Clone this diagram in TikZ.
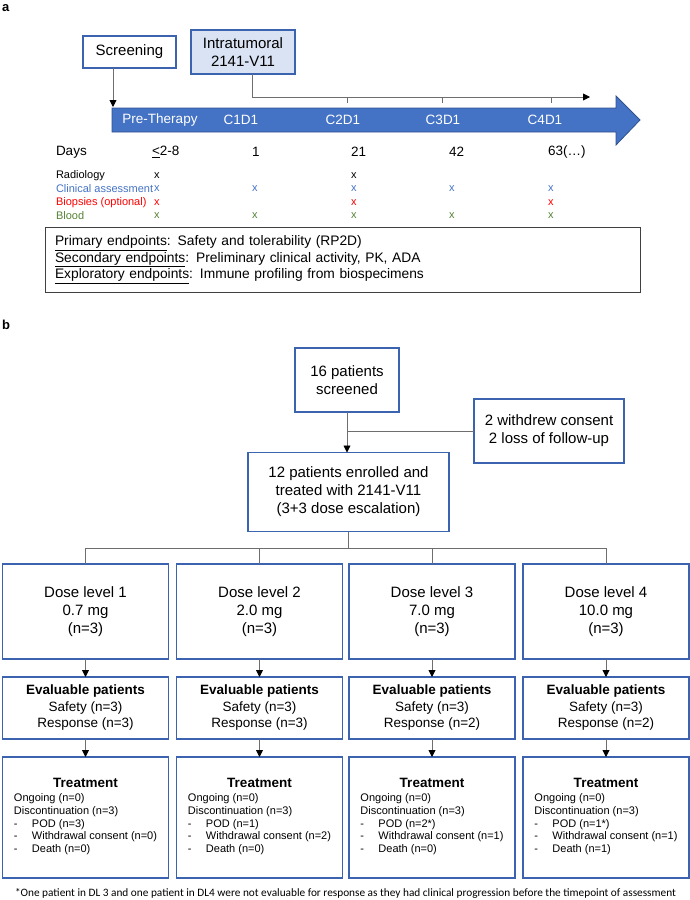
\documentclass[tikz,border=0pt]{standalone}
\usepackage{fontspec}
\setmainfont{Liberation Sans}
\newfontfamily\fnfont{Carlito}
\usetikzlibrary{arrows.meta,calc}
\definecolor{bblue}{HTML}{3B63B0}
\definecolor{bandfill}{HTML}{4472C4}
\definecolor{bandedge}{HTML}{2F528F}
\definecolor{lightfill}{HTML}{DAE3F3}
\definecolor{cblue}{HTML}{4472C4}
\definecolor{cred}{HTML}{FF0000}
\definecolor{cgreen}{HTML}{548235}
\definecolor{lgray}{HTML}{6E6E6E}
\definecolor{egray}{HTML}{404040}
\newcommand{\treatlist}[3]{\begin{tabular}{@{}l@{}}\multicolumn{1}{@{}c@{}}{\fontsize{13.5}{15}\selectfont\bfseries Treatment}\\[1pt]
Ongoing (n=0)\\ Discontinuation (n=3)\\
\makebox[18pt][l]{-}POD (n=#1)\\
\makebox[18pt][l]{-}Withdrawal consent (n=#2)\\
\makebox[18pt][l]{-}Death (n=#3)\end{tabular}}
\begin{document}
\begin{tikzpicture}[x=1pt,y=-1pt,
  box/.style={draw=bblue, line width=1.1pt, inner sep=2pt, outer sep=0pt, align=center},
  conn/.style={draw=lgray, line width=0.9pt},
  arr/.style={conn, -{Triangle[width=7pt,length=7pt,color=black]}},
  fbig/.style={font=\fontsize{15}{18}\selectfont},
  fmid/.style={font=\fontsize{13.5}{16.5}\selectfont},
  fsmall/.style={font=\fontsize{11}{13.5}\selectfont},
  plain/.style={inner sep=0pt, outer sep=0pt},
  bandlbl/.style={plain, text=white, font=\fontsize{13.5}{16}\selectfont},
  dayl/.style={plain, anchor=west, font=\fontsize{13.5}{16}\selectfont},
  rowl/.style={plain, anchor=west, font=\fontsize{11}{13}\selectfont},
  dosebox/.style={box, fbig, minimum width=166pt, minimum height=95pt},
  evalbox/.style={box, fmid, minimum width=166pt, minimum height=62pt},
  treatbox/.style={box, font=\fontsize{11}{12.7}\selectfont, minimum width=166pt, minimum height=121pt},
]
\useasboundingbox (0,0) rectangle (690,900);

% ---------------- panel a ----------------
\node[plain, anchor=west, font=\bfseries\fontsize{13}{15}\selectfont] (la) at (2,8) {a};

\node[box, fbig, minimum width=93pt, minimum height=32pt] (scr) at (129.5,52) {Screening};
\node[box, fbig, fill=lightfill, minimum width=104pt, minimum height=44pt] (itm) at (243,52) {Intratumoral\\2141-V11};

\fill[bandfill, draw=bandedge, line width=0.8pt] (112,108) -- (616,108) -- (616,96) -- (640,120) -- (616,145) -- (616,132) -- (112,132) -- cycle;

\node[bandlbl] (b0) at (160,120) {Pre-Therapy};
\node[bandlbl] (b1) at (241,120) {C1D1};
\node[bandlbl] (b2) at (343,120) {C2D1};
\node[bandlbl] (b3) at (443,120) {C3D1};
\node[bandlbl] (b4) at (545,120) {C4D1};

\coordinate (scrEnd) at (113,107);
\draw[arr] (scr.south -| scrEnd) -- (scrEnd);

\coordinate (tl0) at (252,97);
\coordinate (tlEnd) at (590,97);
\draw[conn] (itm.south -| tl0) -- (tl0);
\draw[arr] (tl0) -- (tlEnd);
\foreach \tx in {347,442,551}{
  \coordinate (tka\tx) at (\tx,97);
  \coordinate (tkb\tx) at (\tx,103);
  \draw[conn, line width=0.7pt] (tka\tx) -- (tkb\tx);
}

% days row
\node[dayl] (days) at (56,152) {Days};
\node[dayl] (d0) at (152,152) {\underline{<}2-8};
\node[dayl] (dd1) at (252,152) {1};
\node[dayl] (dd2) at (351,152) {21};
\node[dayl] (dd3) at (449,152) {42};
\node[dayl] (dd4) at (548,152) {63(\ldots)};

% assessment rows
\node[rowl] (rRad) at (56,176) {Radiology};
\node[rowl, text=cblue] (rCli) at (56,189) {Clinical assessment};
\node[rowl, text=cred] (rBio) at (56,203) {Biopsies (optional)};
\node[rowl, text=cgreen] (rBlo) at (56,216) {Blood};

\node[rowl] (x00) at (154,176) {x};
\node[rowl] (x02) at (351,176) {x};

\node[rowl, text=cblue] (x10) at (154,189) {x};
\node[rowl, text=cblue] (x11) at (252,189) {x};
\node[rowl, text=cblue] (x12) at (351,189) {x};
\node[rowl, text=cblue] (x13) at (449,189) {x};
\node[rowl, text=cblue] (x14) at (548,189) {x};

\node[rowl, text=cred] (x20) at (154,203) {x};
\node[rowl, text=cred] (x22) at (351,203) {x};
\node[rowl, text=cred] (x24) at (548,203) {x};

\node[rowl, text=cgreen] (x30) at (154,216) {x};
\node[rowl, text=cgreen] (x31) at (252,216) {x};
\node[rowl, text=cgreen] (x32) at (351,216) {x};
\node[rowl, text=cgreen] (x33) at (449,216) {x};
\node[rowl, text=cgreen] (x34) at (548,216) {x};

% endpoints
\node[draw=egray, line width=1pt, outer sep=0pt, inner xsep=10pt, inner ysep=0pt, text width=575pt, minimum height=65pt, align=left, font=\fontsize{13.8}{16.5}\selectfont] (endp) at (342.5,259.5)
{\underline{Primary endpoints}: Safety and tolerability (RP2D)\\
\underline{Secondary endpoints}: Preliminary clinical activity, PK, ADA\\
\underline{Exploratory endpoints}: Immune profiling from biospecimens};

% ---------------- panel b ----------------
\node[plain, anchor=west, font=\bfseries\fontsize{13}{15}\selectfont] (lb) at (2,325) {b};

\node[box, fbig, minimum width=104pt, minimum height=64pt] (p16) at (347,380) {16 patients\\screened};
\node[box, fbig, minimum width=150pt, minimum height=64pt] (wd) at (549,431) {2 withdrew consent\\2 loss of follow-up};
\node[box, fbig, minimum width=201pt, minimum height=79pt] (enr) at (348.5,492) {12 patients enrolled and\\treated with 2141-V11\\(3+3 dose escalation)};

\draw[arr] (p16.south) -- (p16.south |- enr.north);
\coordinate (br) at (347,431);
\draw[conn] (br) -- (wd.west);

\node[dosebox] (ds1) at (85.5,611.5) {Dose level 1\\0.7 mg\\(n=3)};
\node[dosebox] (ds2) at (259.5,611.5) {Dose level 2\\2.0 mg\\(n=3)};
\node[dosebox] (ds3) at (432,611.5) {Dose level 3\\7.0 mg\\(n=3)};
\node[dosebox] (ds4) at (606,611.5) {Dose level 4\\10.0 mg\\(n=3)};

\coordinate (hb) at (348,548);
\draw[conn] (enr.south) -- (enr.south |- hb);
\draw[conn] (ds1.north |- hb) -- (ds4.north |- hb);
\foreach \k in {1,2,3,4}{
  \draw[conn] (ds\k.north |- hb) -- (ds\k.north);
}

\node[evalbox] (ev1) at (85.5,708) {\textbf{Evaluable patients}\\Safety (n=3)\\Response (n=3)};
\node[evalbox] (ev2) at (259.5,708) {\textbf{Evaluable patients}\\Safety (n=3)\\Response (n=3)};
\node[evalbox] (ev3) at (432,708) {\textbf{Evaluable patients}\\Safety (n=3)\\Response (n=2)};
\node[evalbox] (ev4) at (606,708) {\textbf{Evaluable patients}\\Safety (n=3)\\Response (n=2)};

\node[treatbox] (tr1) at (85.5,817.5) {\treatlist{3}{0}{0}};
\node[treatbox] (tr2) at (259.5,817.5) {\treatlist{1}{2}{0}};
\node[treatbox] (tr3) at (432,817.5) {\treatlist{2*}{1}{0}};
\node[treatbox] (tr4) at (606,817.5) {\treatlist{1*}{1}{1}};

\foreach \k in {1,2,3,4}{
  \draw[arr] (ds\k.south) -- (ev\k.north);
  \draw[arr] (ev\k.south) -- (tr\k.north);
}

\node[plain, anchor=west, font=\fnfont\fontsize{11.3}{13}\selectfont] (fn) at (15,893) {*One patient in DL 3 and one patient in DL4 were not evaluable for response as they had clinical progression before the timepoint of assessment};
\end{tikzpicture}
\end{document}
